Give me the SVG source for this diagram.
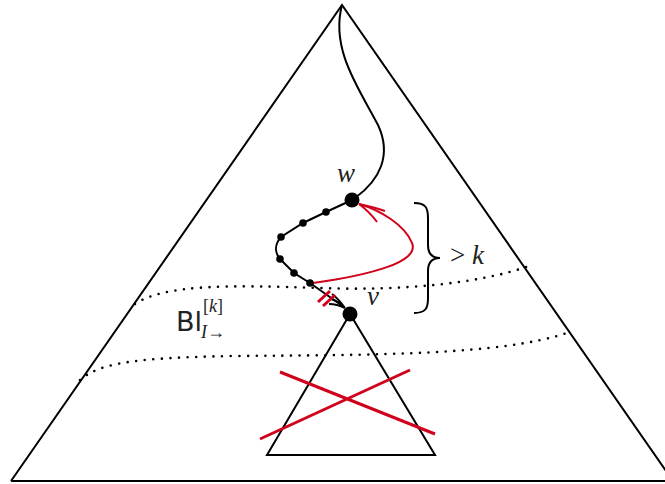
<svg xmlns="http://www.w3.org/2000/svg" width="665" height="484" viewBox="0 0 665 484">
<style>
.k{fill:none;stroke:#000;stroke-width:2}
.r{fill:none;stroke:#d0021b;stroke-width:2}
.rt{fill:none;stroke:#d0021b;stroke-width:3}
.dot{fill:none;stroke:#000;stroke-width:2.6;stroke-dasharray:0 8.6;stroke-linecap:round}
.serif{font-family:"Liberation Serif","DejaVu Serif",serif;font-style:italic;fill:#222}
.sans{font-family:"DejaVu Sans","Liberation Sans",sans-serif;fill:#222}
</style>
<rect width="665" height="484" fill="#fff"/>
<g id="outer-tree">
<path class="k" d="M11,481 L342,5 L673,481 M11,481 L665,481"/>
</g>
<g id="subtree">
<path class="k" d="M350,314 L267,455 L435,455 Z"/>
<path class="rt" d="M280,372 L435,434 M260,439 L410,370"/>
</g>
<g id="levels">
<path class="dot" d="M135,304 C165,284 230,285 320,288 C400,291 480,284 532,265"/>
<path class="dot" d="M80,380 C100,362 140,358 230,356 C380,355 500,355 567,333"/>
</g>
<g id="connectors">
<path class="k" d="M342,5 C330,50 360,90 378,125 C392,155 380,180 355,198"/>
<path class="k" d="M352,200 L326,212 L303,223 L281,237 C274,245 275,253 280,259 L294,273 L310,283 L344,307"/>
<path class="k" d="M345,308 C340,301 336,297 332,294 M345,308 C339,305 334,304 329,304 M345,308 C340,303 335,300 331,299"/>
<path class="r" d="M313,283 C370,275 420,262 412,243 C405,225 380,210 359,204"/>
<path class="r" d="M359,204 C367,210 372,215 377,222 M359,204 C368,206 377,208 385,211"/>
<path class="rt" d="M318,302 L330,291 M323,306 L335,295"/>
</g>
<g id="path-nodes">
<circle cx="326" cy="212" r="3.8"/>
<circle cx="303" cy="223" r="3.8"/>
<circle cx="281" cy="237" r="3.8"/>
<circle cx="280" cy="259" r="3.8"/>
<circle cx="294" cy="273" r="3.8"/>
<circle cx="310" cy="283" r="3.8"/>
</g>
<g id="node-w">
<circle cx="352" cy="200" r="7.5"/>
<text class="serif" x="337" y="182" font-size="27">w</text>
</g>
<g id="node-v">
<circle cx="350" cy="314" r="7.5"/>
<text class="serif" x="367" y="305" font-size="27">v</text>
</g>
<g id="brace">
<path class="k" d="M414,203 C426,203 428,208 428,218 L428,245 C428,253 432,258 440,258 C432,258 428,263 428,271 L428,298 C428,308 426,313 414,313"/>
<text x="450" y="264" font-size="27" class="serif"><tspan font-style="normal">&gt;</tspan> k</text>
</g>
<g id="label-bi">
<text class="sans" x="176" y="331" font-size="27">Bl</text>
<text class="serif" x="203" y="312" font-size="18"><tspan font-style="normal">[</tspan>k<tspan font-style="normal">]</tspan></text>
<text class="serif" x="201" y="338" font-size="18">I<tspan font-style="normal">→</tspan></text>
</g>
</svg>
